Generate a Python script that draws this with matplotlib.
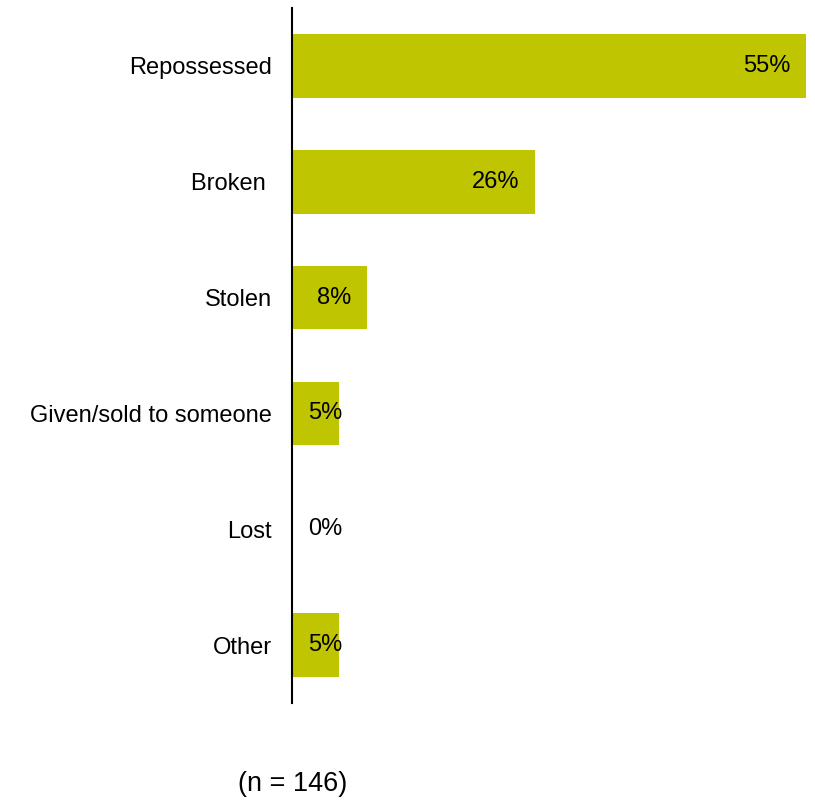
import matplotlib
matplotlib.use("Agg")
import matplotlib.pyplot as plt

categories = ["Repossessed", "Broken ", "Stolen", "Given/sold to someone", "Lost", "Other"]
values = [55, 26, 8, 5, 0, 5]
note = "(n = 146)"

plt.rcParams["font.family"] = ["Liberation Sans", "DejaVu Sans"]

fig = plt.figure(figsize=(8.15, 8.01), dpi=100)
ax = fig.add_axes([292 / 815, 1 - 703 / 801, 514 / 815, 695 / 801])

pos = list(range(len(categories)))
ax.barh(pos, values, height=0.55, color="#BFC500")
ax.set_xlim(0, 55)
ax.set_ylim(len(categories) - 0.5, -0.5)

ax.set_yticks(pos)
ax.set_yticklabels(categories, fontsize=17)
ax.tick_params(axis="y", length=0, pad=14.4)
ax.set_xticks([])
for side in ["top", "right", "bottom"]:
    ax.spines[side].set_visible(False)
ax.spines["left"].set_linewidth(1.5)

# value labels sit inside the bar end; short bars get them just off the axis
for p, v in zip(pos, values):
    if v >= 7:
        ax.text(v - 1.7, p, f"{v}%", ha="right", va="center", fontsize=17)
    else:
        ax.text(1.7, p, f"{v}%", ha="left", va="center", fontsize=17)

fig.text(293 / 815, 1 - 784 / 801, note, ha="center", va="center", fontsize=19.5)

fig.savefig("out.png", dpi=100)
